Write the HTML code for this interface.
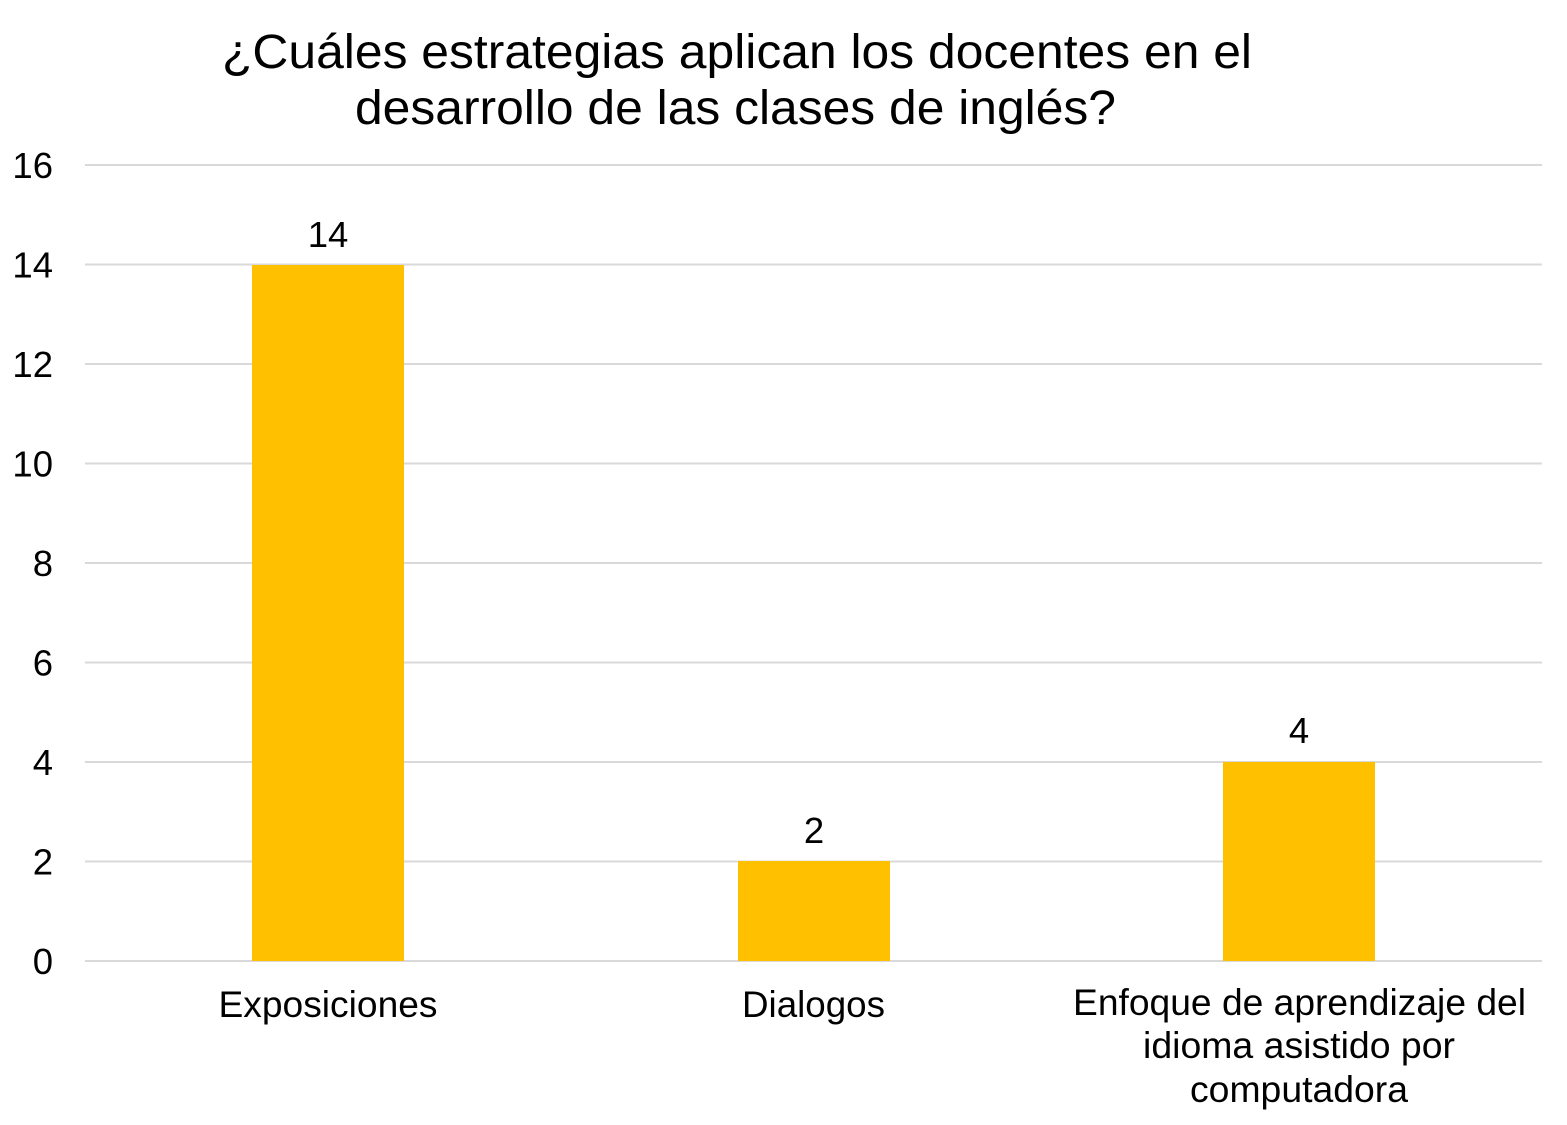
<!DOCTYPE html>
<html>
<head>
<meta charset="utf-8">
<style>
html,body{margin:0;padding:0;background:#fff;}
svg{display:block;}
text{font-family:"Liberation Sans",Arial,sans-serif;fill:#000;}
</style>
</head>
<body>
<svg width="1567" height="1125" viewBox="0 0 1567 1125" xmlns="http://www.w3.org/2000/svg">
<rect width="1567" height="1125" fill="#fff"/>
<text x="737" y="68" font-size="48" text-anchor="middle" textLength="1030" lengthAdjust="spacingAndGlyphs">¿Cuáles estrategias aplican los docentes en el</text>
<text x="735.5" y="124" font-size="48" text-anchor="middle" textLength="761" lengthAdjust="spacingAndGlyphs">desarrollo de las clases de inglés?</text>
<g stroke="#d9d9d9" stroke-width="2">
<line x1="85" y1="165" x2="1542" y2="165"/>
<line x1="85" y1="264.5" x2="1542" y2="264.5"/>
<line x1="85" y1="364" x2="1542" y2="364"/>
<line x1="85" y1="463.5" x2="1542" y2="463.5"/>
<line x1="85" y1="563" x2="1542" y2="563"/>
<line x1="85" y1="662.5" x2="1542" y2="662.5"/>
<line x1="85" y1="762" x2="1542" y2="762"/>
<line x1="85" y1="861.5" x2="1542" y2="861.5"/>
<line x1="85" y1="961" x2="1542" y2="961"/>
</g>
<g font-size="36.5" text-anchor="end">
<text x="53" y="178">16</text>
<text x="53" y="277.5">14</text>
<text x="53" y="377">12</text>
<text x="53" y="476.5">10</text>
<text x="53" y="576">8</text>
<text x="53" y="675.5">6</text>
<text x="53" y="775">4</text>
<text x="53" y="874.5">2</text>
<text x="53" y="974">0</text>
</g>
<rect x="252" y="265" width="152" height="696" fill="#ffc000"/>
<rect x="738" y="861" width="152" height="100" fill="#ffc000"/>
<rect x="1223" y="762" width="152" height="199" fill="#ffc000"/>
<g font-size="36.5" text-anchor="middle">
<text x="328" y="247">14</text>
<text x="814" y="843">2</text>
<text x="1299" y="743">4</text>
</g>
<g font-size="37" text-anchor="middle">
<text x="328" y="1017" textLength="219" lengthAdjust="spacingAndGlyphs">Exposiciones</text>
<text x="813.5" y="1017" textLength="143" lengthAdjust="spacingAndGlyphs">Dialogos</text>
<text x="1299.5" y="1015" textLength="453" lengthAdjust="spacingAndGlyphs">Enfoque de aprendizaje del</text>
<text x="1299" y="1058" textLength="312" lengthAdjust="spacingAndGlyphs">idioma asistido por</text>
<text x="1299" y="1102" textLength="218" lengthAdjust="spacingAndGlyphs">computadora</text>
</g>
</svg>
</body>
</html>
